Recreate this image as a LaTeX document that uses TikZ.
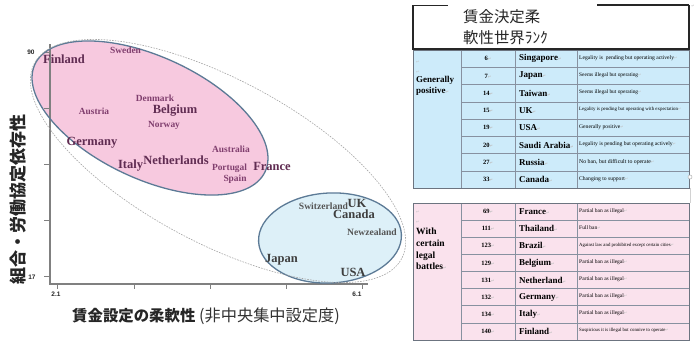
\documentclass[tikz,border=0pt]{standalone}
\usepackage{fontspec}
\setmainfont{Liberation Serif}
\newfontfamily\cjk{Noto Sans CJK JP}
\newfontfamily\arialf{Liberation Sans}
\newfontfamily\symf{DejaVu Sans}
\definecolor{pinkfill}{RGB}{247,201,223}
\definecolor{bluefill}{RGB}{221,240,248}
\definecolor{ellborder}{RGB}{92,122,150}
\definecolor{pinktxt}{RGB}{96,44,82}
\definecolor{pinktxt2}{RGB}{128,62,110}
\definecolor{bluetxt}{RGB}{62,62,62}
\definecolor{bluetxt2}{RGB}{85,85,85}
\definecolor{axisgray}{RGB}{128,128,128}
\definecolor{tblue}{RGB}{205,235,250}
\definecolor{tpink}{RGB}{250,226,237}
\definecolor{tline}{RGB}{135,145,160}
\newcommand\retmark{{\symf\color{gray!50}\fontsize{4}{4}\selectfont ↵}}
\tikzset{
  lbl/.style={inner sep=0pt, text height=0.7em, text depth=0.2em},
  bigp/.style={lbl, font=\bfseries\fontsize{12.5}{13}\selectfont, text=pinktxt},
  smallp/.style={lbl, font=\bfseries\fontsize{9.4}{10}\selectfont, text=pinktxt2},
  bigb/.style={lbl, font=\bfseries\fontsize{12.5}{13}\selectfont, text=bluetxt},
  smallb/.style={lbl, font=\bfseries\fontsize{9.6}{10}\selectfont, text=bluetxt2},
  ticklbl/.style={inner sep=0pt, font=\arialf\bfseries\fontsize{6.5}{7}\selectfont, text=black!85},
  axis/.style={draw=axisgray, line width=1.5pt},
  tickline/.style={draw=axisgray, line width=1pt},
  numcell/.style={inner sep=0pt, font=\bfseries\fontsize{6.5}{7}\selectfont},
  ctrycell/.style={inner sep=0pt, anchor=west, font=\bfseries\fontsize{9}{10}\selectfont},
  desccell/.style={inner sep=0pt, anchor=west},
  grid/.style={draw=tline, line width=0.7pt},
}
\begin{document}
\begin{tikzpicture}[x=1pt,y=-1pt]
\useasboundingbox (0,0) rectangle (699,343);
\fill[white] (0,0) rectangle (699,343);

% ---------- chart ----------
\fill[pinkfill, shift={(150,118)}, rotate=-25] (0,0) ellipse [x radius=127, y radius=61];
\draw[axis] (50,44) -- (50,284) -- (368,284);
\foreach \yy in {52,108,164,220,276} \draw[tickline] (44,\yy) -- (50,\yy);
\foreach \xx in {57,134,210,286,362} \draw[tickline] (\xx,284) -- (\xx,289);
\draw[ellborder, line width=1.3pt, shift={(150,118)}, rotate=-25] (0,0) ellipse [x radius=127, y radius=61];
\draw[ellborder, line width=1.3pt, fill=bluefill, shift={(330,238)}, rotate=3] (0,0) ellipse [x radius=71.5, y radius=45];
\draw[gray!70, line width=0.6pt, dash pattern=on 1.6pt off 1.2pt, shift={(218,161)}, rotate=-28] (0,0) ellipse [x radius=208, y radius=82];

\node[ticklbl] (t90) at (31,52) {90};
\node[ticklbl] (t17) at (32,277) {17};
\node[ticklbl] (t21) at (56,294) {2.1};
\node[ticklbl] (t61) at (357,294) {6.1};

\node[bigp] (fin) at (64,61) {Finland};
\node[smallp] (swe) at (125.5,51) {Sweden};
\node[smallp] (den) at (155,98.5) {Denmark};
\node[bigp] (bel) at (175,111) {Belgium};
\node[smallp] (aut) at (94,112) {Austria};
\node[smallp] (nor) at (164,124.5) {Norway};
\node[bigp] (ger) at (92,143) {Germany};
\node[smallp] (aus) at (231,150) {Australia};
\node[bigp] (ita) at (130.5,166) {Italy};
\node[bigp] (net) at (176,162) {Netherlands};
\node[smallp] (por) at (229.5,168) {Portugal};
\node[bigp] (fra) at (272,168) {France};
\node[smallp] (spa) at (235,178.5) {Spain};
\node[smallb] (swi) at (323.5,207) {Switzerland};
\node[bigb] (uk) at (357,205) {UK};
\node[bigb] (can) at (354,216) {Canada};
\node[smallb] (nzl) at (372,233) {Newzealand};
\node[bigb] (jpn) at (281.5,260) {Japan};
\node[bigb] (usa) at (353,274) {USA};

\node[inner sep=0pt, rotate=90, font=\cjk\bfseries\fontsize{17}{17}\selectfont, text=black!85] (ylab) at (18,199) {組合・労働協定依存性};
\node[inner sep=0pt, anchor=base west, font=\cjk\bfseries\fontsize{15.4}{16}\selectfont, text=black!85] (xlab1) at (72,321) {賃金設定の柔軟性};
\node[inner sep=0pt, anchor=base west, font=\cjk\fontsize{16.2}{17}\selectfont, text=black!80] (xlab2) at (199,321) {(非中央集中設定度)};

% ---------- title box ----------
\fill[white] (413,5) rectangle (689,49);
\draw[black!85, line width=0.6pt] (413,5) -- (448,5);
\draw[black!85, line width=1.2pt] (597,5) -- (689,5);
\draw[black!85, line width=1.2pt] (413,5) -- (413,49) -- (689,49) -- (689,5);
\node[inner sep=0pt, anchor=west, font=\cjk\fontsize{15.4}{16}\selectfont, text=black!85] (title1) at (463,17) {賃金決定柔};
\node[inner sep=0pt, anchor=west, font=\cjk\fontsize{15.4}{16}\selectfont, text=black!85] (title2) at (463,38) {軟性世界ﾗﾝｸ};
\node[inner sep=0pt] (cornerret) at (693,6) {\retmark};

% ---------- blue table ----------
\fill[tblue] (413,50) rectangle (689,188.4);
\foreach \i in {1,...,7} \draw[grid] (461,50+\i*17.3) -- (689,50+\i*17.3);
\foreach \xx in {461,515,577} \draw[grid] (\xx,50) -- (\xx,188.4);
\draw[grid, draw=tline!80!black] (413,50) rectangle (689,188.4);
\foreach \n/\c/\d/\s [count=\i] in {
  6/Singapore/{Legality is\ \ pending but operating actively}/5.6,
  7/Japan/{Seems illegal but operating}/5.4,
  14/Taiwan/{Seems illegal but operating}/5.4,
  15/UK/{Legality is pending but operating with expectation}/4.9,
  19/USA/{Generally positive}/5.6,
  20/Saudi Arabia/{Legality is pending but operating actively}/5.6,
  27/Russia/{No ban, but difficult to operate}/5.8,
  33/Canada/{Changing to support}/5.6}
{
  \node[numcell] (bn\i) at (488,50+\i*17.3-8.65) {\n\retmark};
  \node[ctrycell] (bc\i) at (519,50+\i*17.3-8.65) {\c\retmark};
  \node[desccell, font=\fontsize{\s}{\s}\selectfont] (bd\i) at (579,50+\i*17.3-9.5) {\d\retmark};
}
\node[inner sep=0pt, anchor=west] (br1) at (416,62) {\retmark};
\node[inner sep=0pt, anchor=west] (br2) at (416,72) {\retmark};
\node[inner sep=0pt, anchor=west, align=left, font=\bfseries\fontsize{9}{11}\selectfont] (bgrp) at (416,86) {Generally\\positive\retmark};

% ---------- pink table ----------
\fill[tpink] (413,203) rectangle (689,340);
\foreach \i in {1,...,7} \draw[grid] (461,203+\i*17.125) -- (689,203+\i*17.125);
\foreach \xx in {461,515,577} \draw[grid] (\xx,203) -- (\xx,340);
\draw[grid, draw=tline!80!black] (413,203) rectangle (689,340);
\foreach \n/\c/\d/\s [count=\i] in {
  69/France/{Partial ban as illegal}/5.5,
  111/Thailand/{Full ban}/5.5,
  123/Brazil/{Against law and prohibited except certain cities}/4.8,
  129/Belgium/{Partial ban as illegal}/5.5,
  131/Netherland/{Partial ban as illegal}/5.5,
  132/Germany/{Partial ban as illegal}/5.5,
  134/Italy/{Partial ban as illegal}/5.5,
  140/Finland/{Suspicious it is illegal but connive to operate}/4.8}
{
  \node[numcell] (pn\i) at (488,203+\i*17.125-8.56) {\n\retmark};
  \node[ctrycell] (pc\i) at (519,203+\i*17.125-8.56) {\c\retmark};
  \node[desccell, font=\fontsize{\s}{\s}\selectfont] (pd\i) at (579,203+\i*17.125-9.4) {\d\retmark};
}
\node[inner sep=0pt, anchor=west] (pr1) at (416,212) {\retmark};
\node[inner sep=0pt, anchor=west] (pr2) at (416,222) {\retmark};
\node[inner sep=0pt, anchor=west, align=left, font=\bfseries\fontsize{9.5}{11.8}\selectfont] (pgrp) at (416,249) {With\\certain\\legal\\battles\retmark};

% ---------- frame artifacts ----------
\draw[gray!35, line width=0.6pt] (690,188.4) -- (690,203);
\draw[gray!60, fill=white, line width=0.5pt] (690,177) circle [radius=2];
\end{tikzpicture}
\end{document}
